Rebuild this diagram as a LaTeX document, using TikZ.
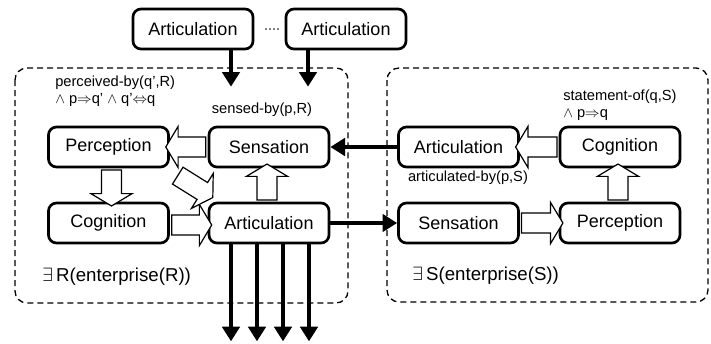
\documentclass[tikz,border=0pt]{standalone}
\usepackage{fontspec}
\setmainfont{Liberation Sans}
\usetikzlibrary{shapes,arrows,positioning,calc,arrows.meta}

\tikzset{
  stage/.style={draw, line width=2pt, rounded corners=6pt, minimum width=90pt, minimum height=30pt, inner sep=0pt, font=\fontsize{13.5}{16}\selectfont},
  hollow/.style={single arrow, draw, line width=0.9pt, fill=white, inner xsep=0pt, inner ysep=7pt, single arrow head extend=8pt, single arrow tip angle=118, minimum height=#1, text height=0pt, text depth=0pt},
  flow/.style={line width=3pt, -{Triangle[length=11pt,width=13pt]}},
  world/.style={draw, line width=1pt, dash pattern=on 4.5pt off 3pt, rounded corners=9pt},
  note/.style={font=\fontsize{11}{12.75}\selectfont, inner sep=0pt, align=left},
}

\begin{document}
\begin{tikzpicture}[x=0.75pt,y=-0.75pt]
    \useasboundingbox (0,0) rectangle (711,343);

    % Enterprise boundaries
    \draw[world] (15,68) rectangle (348,303);
    \draw[world] (387,68) rectangle (708,302);

    % Outside articulations
    \node[stage] (a1) at (193,29) {Articulation};
    \node[stage] (a2) at (346,29) {Articulation};
    \draw[gray, line width=1pt, dotted] ($(a1.east)+(11,0)$) -- ($(a2.west)+(-5,0)$);

    % R-Region
    \node[stage] (lper) at (108.5,147) {Perception};
    \node[stage] (lsen) at (269,147) {Sensation};
    \node[stage] (lcog) at (108.5,223) {Cognition};
    \node[stage] (lart) at (269,223) {Articulation};
    \node[note, anchor=west] (perclabel) at (55,91.5) {perceived-by(q’,R)\\$\wedge$ p$\Rightarrow$q’ $\wedge$ q’$\Leftrightarrow$q};
    \node[note] (senslabel) at (262,110) {sensed-by(p,R)};
    \node[font=\fontsize{14}{16}\selectfont, anchor=west, inner sep=0pt] (enterR) at (42,277) {$\exists\,$R(enterprise(R))};

    % S-Region
    \node[stage] (rart) at (458.5,147) {Articulation};
    \node[stage] (rcog) at (620,147) {Cognition};
    \node[stage] (rsen) at (458.5,223) {Sensation};
    \node[stage] (rper) at (620,223) {Perception};
    \node[note, anchor=west] (statlabel) at (563,105.5) {statement-of(q,S)\\$\wedge$ p$\Rightarrow$q};
    \node[note] (artlabel) at (468,178) {articulated-by(p,S)};
    \node[font=\fontsize{14}{16}\selectfont, anchor=west, inner sep=0pt] (enterS) at (412,276) {$\exists\,$S(enterprise(S))};

    % Hollow arrows inside R
    \node[hollow=30pt, rotate=180] (h1) at ($(lsen.west)!0.5!(lper.east)$) {};
    \node[hollow=27pt, rotate=-90] (h2) at ($(lper.south)!0.5!(lcog.north)+(3,0)$) {};
    \node[hollow=30pt] (h3) at ($(lcog.east)!0.5!(lart.west)+(0,2)$) {};
    \node[hollow=27pt, rotate=90] (h4) at ($(lart.north)!0.5!(lsen.south)+(-2,0)$) {};
    \node[hollow=31pt, rotate=-32] (h5) at ($(lper.south east)!0.5!(lart.north west)+(4,0)$) {};

    % Hollow arrows inside S
    \node[hollow=31pt, rotate=180] (h6) at ($(rcog.west)!0.5!(rart.east)$) {};
    \node[hollow=27pt, rotate=90] (h7) at ($(rper.north)!0.5!(rcog.south)+(-2,0)$) {};
    \node[hollow=31pt] (h8) at ($(rsen.east)!0.5!(rper.west)$) {};

    % Thick arrows
    \coordinate (in1) at ($(lsen.north)+(-38,-39)$);
    \coordinate (in2) at ($(lsen.north)+(39,-39)$);
    \draw[flow] (a1.south -| in1) -- (in1);
    \draw[flow] (a2.south -| in2) -- (in2);
    \draw[flow] (rart) -- (lsen);
    \draw[flow] (lart) -- (rsen);
    \foreach \dx in {-38,-12,14,40} \draw[flow] ($(lart.south)+(\dx,0)$) -- ($(lart.south)+(\dx,97)$); % outputs
\end{tikzpicture}
\end{document}
